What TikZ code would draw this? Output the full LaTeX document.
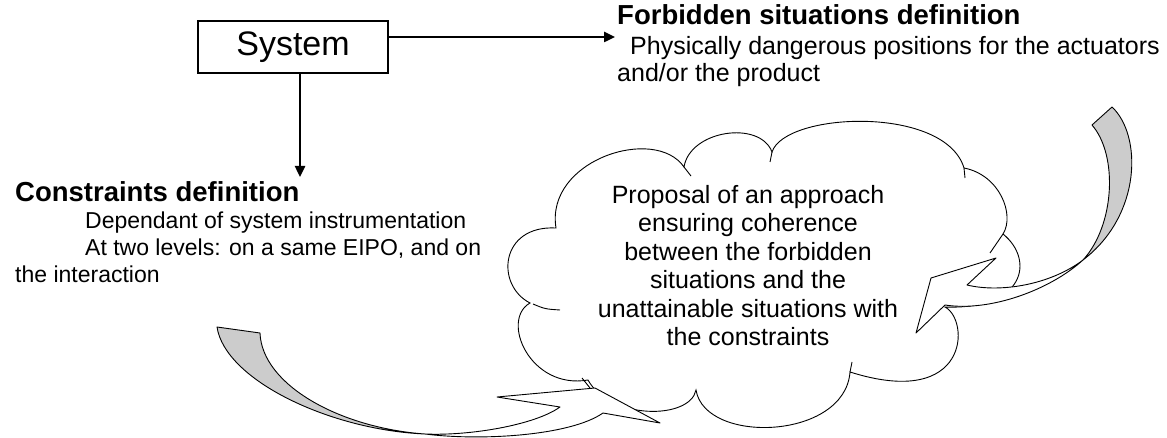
\documentclass[tikz,border=0pt]{standalone}
\usepackage{fontspec}
\setmainfont{Liberation Sans}
\usetikzlibrary{arrows.meta,calc}
\definecolor{bandgray}{RGB}{204,204,204}
\begin{document}
\begin{tikzpicture}[x=1pt,y=-1pt,
  heading/.style={font=\fontsize{27.5}{32}\selectfont\bfseries, inner sep=0pt, anchor=base west},
  bodyl/.style={font=\fontsize{23}{27}\selectfont, inner sep=0pt, anchor=base west},
  bodyr/.style={font=\fontsize{25}{28}\selectfont, inner sep=0pt, anchor=base west},
  link/.style={line width=2.4pt, -{Triangle[length=11pt,width=10pt]}},
  band/.style={draw=black, line width=0.9pt, line join=round},
  cloudline/.style={draw=black, line width=0.9pt}
]
\useasboundingbox (0,0) rectangle (1167,438);

% system box and its two links
\node[draw, line width=1.2pt, minimum width=190pt, minimum height=52pt, inner sep=0pt,
      font=\fontsize{34}{40}\selectfont] (sys) at (293,47) {System};
\coordinate (fsd) at (615,37);
\coordinate (ctip) at (300,177);
\draw[link] (sys.east |- fsd) -- (fsd);
\draw[link] (ctip |- sys.south) -- (ctip);

% forbidden situations block
\node[heading] (fhead) at (617,25) {Forbidden situations definition};
\node[bodyr] (fl1) at (630,55) {Physically dangerous positions for the actuators};
\node[bodyr] (fl2) at (617,82) {and/or the product};

% constraints block
\node[heading] (chead) at (15,202) {Constraints definition};
\node[bodyl] (cl1) at (85,229) {Dependant of system instrumentation};
\node[bodyl] (cl2) at (85,256) {At two levels: on a same EIPO, and on};
\node[bodyl] (cl3) at (15,283) {the interaction};

% cloud outline
\path[cloudline, fill=white]
  (530,303) .. controls (495,285) and (500,225) .. (556,228)
  .. controls (545,160) and (655,125) .. (684,167)
  .. controls (690,130) and (760,120) .. (772,152)
  .. controls (785,112) and (945,105) .. (964,168)
  .. controls (1000,175) and (1015,215) .. (1003,234)
  .. controls (1035,260) and (1025,310) .. (945,307)
  .. controls (970,320) and (970,410) .. (850,372)
  .. controls (845,440) and (705,445) .. (696,390)
  .. controls (690,420) and (610,420) .. (588,380)
  .. controls (530,390) and (500,320) .. (530,303) -- cycle;
% inner ends of the cloud arcs
\draw[cloudline] (684,167) -- (691,176);
\draw[cloudline] (772,152) -- (770,162);
\draw[cloudline] (964,168) -- (965,178);
\draw[cloudline] (1003,234) -- (990,253);
\draw[cloudline] (582,378) -- (590,388);
\draw[cloudline] (533,304) .. controls (545,309) .. (560,310);
\draw[cloudline] (850,372) -- (852,362);

% the last line of the cloud text sits on this baseline
\node[font=\fontsize{25}{28.5}\selectfont, align=center, inner sep=0pt, anchor=base] (prop) at (748,345.5)
  {Proposal of an approach\\ensuring coherence\\between the forbidden\\situations and the\\unattainable situations with\\the constraints};

% curved arrow from the constraints into the cloud
\path[band, fill=bandgray] (217,327) .. controls (225,380) and (330,430) .. (425,434)
  .. controls (340,428) and (262,385) .. (260,333) -- cycle;
\path[band, fill=white] (425,434) .. controls (470,436) and (535,425) .. (560,407)
  -- (497,397) -- (595,388) -- (660,423) -- (603,413)
  .. controls (570,436) and (480,441) .. (425,434) -- cycle;

% curved arrow from the forbidden situations into the cloud
\path[band, fill=bandgray] (1112,107) .. controls (1142,135) and (1142,215) .. (1083,260)
  .. controls (1115,225) and (1118,155) .. (1092,125) -- cycle;
\path[band, fill=white] (1083,260) .. controls (1050,285) and (1000,293) .. (967,285)
  -- (996,258) -- (931,278) -- (916,333) -- (945,305)
  .. controls (990,312) and (1050,290) .. (1083,260) -- cycle;
\end{tikzpicture}
\end{document}
